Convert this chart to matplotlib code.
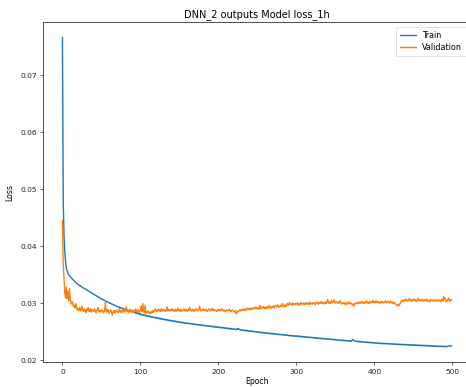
import matplotlib
matplotlib.use("Agg")
import matplotlib.pyplot as plt
import numpy as np

title = "DNN_2 outputs Model loss_1h"
x_label = "Epoch"
y_label = "Loss"
series_names = ["Train", "Validation"]
x_ticks = [0, 100, 200, 300, 400, 500]
y_ticks = [0.02, 0.03, 0.04, 0.05, 0.06, 0.07]

# loss values in units of 1e-5
train_loss_e5 = [
    7660, 4780, 4180, 3900, 3720, 3610, 3565, 3528, 3502, 3478, 3462, 3446, 3428, 3416, 3402, 3386, 3374, 3360, 3348, 3336,
    3326, 3318, 3302, 3306, 3288, 3280, 3272, 3262, 3256, 3246, 3238, 3228, 3226, 3210, 3208, 3194, 3190, 3180, 3174, 3160,
    3156, 3146, 3138, 3132, 3120, 3116, 3102, 3100, 3088, 3080, 3076, 3064, 3062, 3048, 3046, 3034, 3034, 3020, 3018, 3006,
    3006, 2994, 2994, 2980, 2982, 2968, 2968, 2956, 2956, 2944, 2942, 2936, 2926, 2928, 2916, 2918, 2906, 2908, 2896, 2898,
    2886, 2890, 2876, 2880, 2866, 2872, 2858, 2862, 2850, 2854, 2840, 2846, 2832, 2838, 2824, 2830, 2814, 2822, 2806, 2814,
    2798, 2806, 2790, 2798, 2784, 2790, 2776, 2786, 2770, 2778, 2766, 2772, 2758, 2768, 2752, 2760, 2748, 2754, 2740, 2750,
    2734, 2744, 2730, 2738, 2722, 2734, 2718, 2728, 2712, 2722, 2708, 2716, 2702, 2712, 2696, 2706, 2692, 2700, 2686, 2696,
    2682, 2690, 2678, 2688, 2672, 2682, 2668, 2678, 2664, 2672, 2660, 2670, 2656, 2664, 2650, 2660, 2648, 2656, 2642, 2652,
    2640, 2648, 2636, 2646, 2632, 2640, 2628, 2638, 2624, 2634, 2622, 2630, 2616, 2628, 2614, 2622, 2610, 2620, 2606, 2616,
    2604, 2612, 2600, 2610, 2596, 2606, 2592, 2604, 2590, 2598, 2586, 2596, 2582, 2594, 2580, 2588, 2576, 2586, 2572, 2582,
    2570, 2580, 2566, 2576, 2562, 2574, 2560, 2568, 2556, 2566, 2552, 2564, 2550, 2558, 2546, 2556, 2542, 2552, 2540, 2548,
    2536, 2546, 2534, 2542, 2530, 2556, 2548, 2536, 2526, 2534, 2520, 2530, 2516, 2526, 2514, 2522, 2510, 2520, 2506, 2516,
    2504, 2512, 2500, 2510, 2496, 2506, 2494, 2502, 2490, 2500, 2486, 2496, 2484, 2492, 2480, 2490, 2476, 2486, 2474, 2482,
    2470, 2480, 2468, 2476, 2464, 2474, 2462, 2470, 2458, 2468, 2456, 2464, 2452, 2462, 2450, 2458, 2446, 2456, 2444, 2452,
    2442, 2450, 2438, 2448, 2436, 2444, 2432, 2442, 2430, 2438, 2426, 2436, 2424, 2432, 2420, 2430, 2418, 2428, 2416, 2424,
    2414, 2426, 2412, 2422, 2408, 2420, 2406, 2416, 2404, 2414, 2400, 2412, 2398, 2408, 2396, 2406, 2394, 2402, 2390, 2400,
    2388, 2398, 2386, 2394, 2382, 2392, 2380, 2390, 2378, 2386, 2376, 2384, 2372, 2382, 2370, 2380, 2368, 2376, 2366, 2374,
    2364, 2372, 2360, 2370, 2358, 2366, 2356, 2364, 2352, 2362, 2350, 2360, 2348, 2356, 2346, 2354, 2344, 2352, 2340, 2350,
    2338, 2348, 2336, 2344, 2334, 2342, 2332, 2340, 2328, 2338, 2326, 2336, 2362, 2350, 2340, 2332, 2324, 2332, 2320, 2330,
    2318, 2328, 2316, 2324, 2314, 2322, 2312, 2320, 2308, 2318, 2306, 2316, 2304, 2314, 2302, 2310, 2300, 2308, 2298, 2306,
    2296, 2306, 2294, 2302, 2292, 2300, 2290, 2298, 2288, 2298, 2286, 2296, 2284, 2294, 2284, 2292, 2282, 2290, 2280, 2290,
    2278, 2288, 2276, 2286, 2276, 2284, 2274, 2282, 2272, 2282, 2270, 2280, 2270, 2278, 2268, 2278, 2266, 2276, 2266, 2274,
    2264, 2274, 2262, 2272, 2262, 2270, 2260, 2270, 2258, 2268, 2258, 2266, 2256, 2266, 2254, 2264, 2254, 2262, 2252, 2262,
    2250, 2260, 2250, 2258, 2248, 2258, 2246, 2256, 2246, 2254, 2244, 2254, 2242, 2252, 2240, 2250, 2240, 2250, 2238, 2248,
    2238, 2248, 2236, 2246, 2236, 2244, 2234, 2244, 2234, 2242, 2232, 2242, 2232, 2240, 2236, 2246, 2240, 2248, 2244, 2250,
]

val_loss_e5 = [
    4450, 3690, 3420, 3180, 3090, 3280, 3080, 3200, 3040, 3250, 3060, 3000, 2980, 3020, 2940, 2960, 2910, 2990, 2930, 2880,
    2900, 2870, 2920, 2860, 2890, 2940, 2870, 2850, 2900, 2880, 2830, 2890, 2870, 2920, 2850, 2860, 2900, 2840, 2880, 2870,
    2850, 2900, 2860, 2830, 2880, 2870, 2920, 2850, 2860, 2840, 2880, 2870, 2830, 2860, 2850, 3010, 2870, 2840, 2890, 2860,
    2820, 2860, 2880, 2830, 2790, 2850, 2870, 2820, 2840, 2880, 2860, 2830, 2850, 2900, 2840, 2870, 2830, 2860, 2880, 2850,
    2840, 2880, 2930, 2850, 2870, 2830, 2860, 2890, 2840, 2860, 2880, 2830, 2870, 2850, 2900, 2860, 2840, 2880, 2830, 2860,
    2870, 2950, 2850, 2990, 2860, 2830, 2960, 2820, 2850, 2830, 2860, 2820, 2840, 2810, 2850, 2830, 2870, 2840, 2860, 2900,
    2880, 2850, 2870, 2890, 2860, 2880, 2850, 2900, 2870, 2860, 2890, 2870, 2850, 2880, 2930, 2860, 2870, 2890, 2860, 2880,
    2870, 2900, 2860, 2880, 2850, 2890, 2870, 2860, 2910, 2870, 2880, 2850, 2890, 2870, 2860, 2880, 2900, 2860, 2870, 2890,
    2850, 2880, 2870, 2930, 2870, 2880, 2860, 2890, 2870, 2850, 2880, 2900, 2870, 2860, 2890, 2880, 2940, 2870, 2860, 2880,
    2900, 2870, 2880, 2860, 2890, 2870, 2850, 2880, 2900, 2870, 2860, 2880, 2910, 2870, 2890, 2860, 2880, 2870, 2850, 2880,
    2870, 2890, 2860, 2880, 2900, 2870, 2860, 2880, 2860, 2850, 2870, 2880, 2860, 2870, 2890, 2860, 2850, 2870, 2880, 2860,
    2850, 2840, 2870, 2810, 2830, 2860, 2850, 2870, 2880, 2860, 2890, 2870, 2880, 2900, 2870, 2890, 2880, 2910, 2880, 2900,
    2890, 2910, 2880, 2900, 2920, 2890, 2910, 2900, 2930, 2900, 2920, 2900, 2890, 2960, 2910, 2900, 2930, 2910, 2940, 2900,
    2920, 2900, 2940, 2910, 2920, 2960, 2930, 2900, 2940, 2920, 2950, 2930, 2910, 2960, 2940, 2930, 2970, 2950, 2920, 2940,
    2960, 2940, 2990, 2950, 2930, 2970, 2950, 2940, 2990, 2970, 2960, 3010, 2980, 2970, 2990, 2960, 3000, 2980, 2970, 2990,
    2980, 3000, 2970, 2990, 2960, 2990, 3010, 2980, 2970, 3000, 2990, 2970, 3010, 2980, 3000, 2990, 2970, 3020, 2990, 2980,
    3000, 2980, 3010, 2990, 2970, 3000, 3020, 2990, 2980, 3010, 2990, 3000, 3030, 2990, 3010, 2980, 3000, 3020, 2990, 3010,
    3060, 3000, 3020, 2990, 3010, 3040, 3000, 3020, 3060, 3010, 3000, 3030, 3010, 2990, 3020, 3000, 3040, 3010, 2980, 3000,
    2990, 3010, 2980, 3000, 2970, 3000, 3020, 2990, 2980, 3010, 3000, 2980, 2960, 2990, 2950, 2980, 3000, 2990, 3010, 2990,
    3000, 3020, 2990, 3010, 3030, 3000, 2990, 3020, 3000, 3010, 3040, 3000, 3010, 2990, 3020, 3030, 3000, 3010, 3050, 3010,
    3020, 3000, 3040, 3010, 3030, 3000, 3020, 3010, 2990, 3030, 3010, 3020, 3000, 3010, 3040, 3020, 3000, 3030, 3010, 3020,
    3000, 3030, 3010, 2990, 3020, 3000, 3010, 2980, 2970, 2960, 2950, 2980, 2960, 2990, 3010, 3040, 3020, 3050, 3030, 3060,
    3040, 3070, 3030, 3050, 3040, 3080, 3050, 3030, 3060, 3040, 3050, 3070, 3040, 3060, 3030, 3050, 3090, 3040, 3060, 3050,
    3040, 3070, 3050, 3030, 3060, 3040, 3050, 3070, 3030, 3050, 3040, 3020, 3060, 3040, 3050, 3030, 3060, 3040, 3030, 3050,
    3040, 3060, 3030, 3050, 3040, 3020, 3050, 3070, 3040, 3110, 3060, 3080, 3030, 3020, 3040, 3090, 3050, 3030, 3060, 3050,
]

train = np.array(train_loss_e5) / 1e5
val = np.array(val_loss_e5) / 1e5
epochs = np.arange(len(train))

W, H = 466, 387
fig = plt.figure(figsize=(W / 100, H / 100), dpi=100)
left, right, top, bottom = 43, 471, 22, 362.3
ax = fig.add_axes([left / W, (H - bottom) / H, (right - left) / W, (bottom - top) / H])

ax.plot(epochs, train, color="#1f77b4", lw=1.0, label=series_names[0])
ax.plot(epochs, val, color="#ff7f0e", lw=1.0, label=series_names[1])

ax.set_xlim(-24.95, 523.95)
ax.set_ylim(0.0196, 0.0793)
ax.set_xticks(x_ticks)
ax.set_yticks(y_ticks)
ax.set_yticklabels([f"{v:.2f}" for v in y_ticks])
ax.tick_params(labelsize=5.4, length=2.3, width=0.5, pad=2.2, colors="#222222")
for s in ax.spines.values():
    s.set_linewidth(0.6)
    s.set_color("#333333")

ax.set_title(title, fontsize=7.0, pad=3.5)
ax.set_xlabel(x_label, fontsize=5.6, labelpad=2)
ax.set_ylabel(y_label, fontsize=5.6, labelpad=4)
leg = ax.legend(loc="upper right", fontsize=5.8, frameon=True, handlelength=2.0,
                borderpad=0.5, labelspacing=0.4, borderaxespad=0.6)
leg.get_frame().set_linewidth(0.5)

fig.savefig("out.png", dpi=100)
